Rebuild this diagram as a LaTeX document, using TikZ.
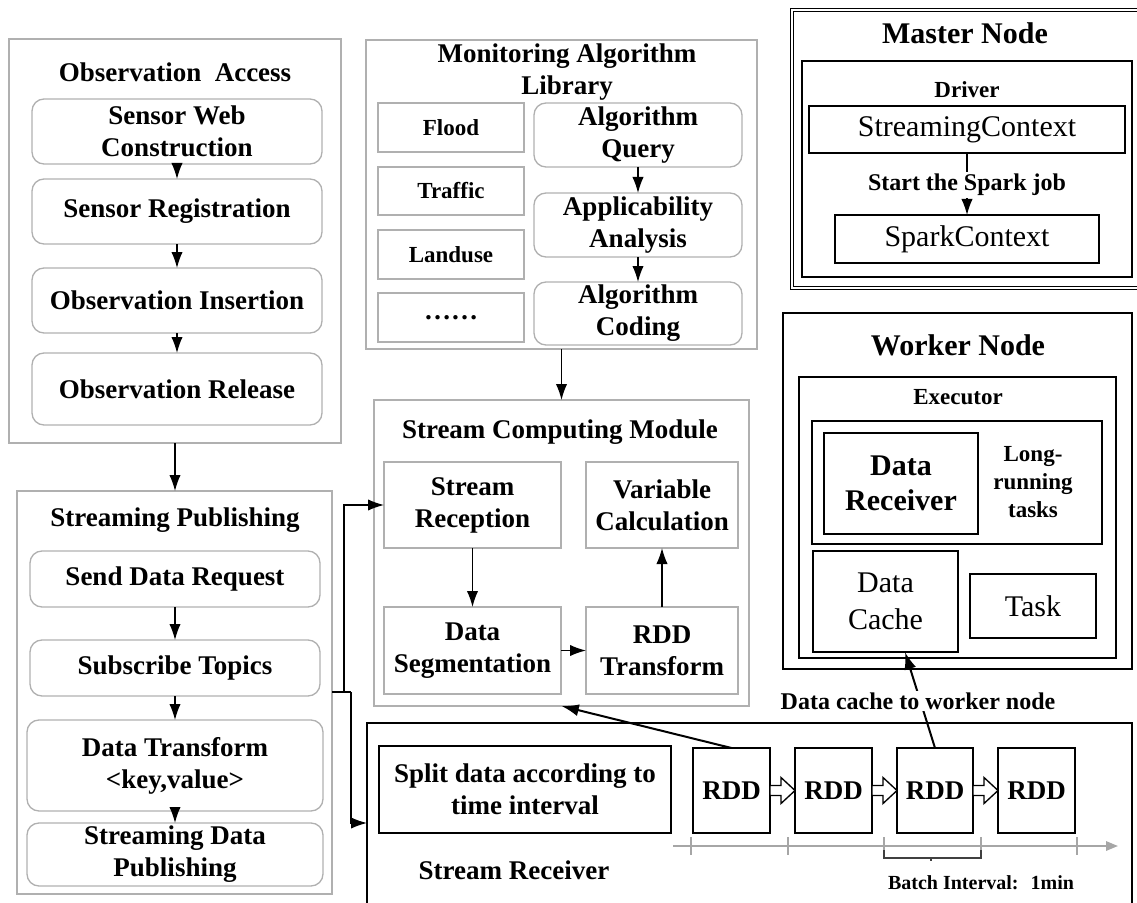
\documentclass[tikz,border=0pt]{standalone}
\usepackage{fontspec}
\setmainfont{Liberation Serif}
\usetikzlibrary{arrows.meta}
\definecolor{boxgray}{HTML}{B0B0B0}
\definecolor{tlgray}{HTML}{A6A6A6}
\newcommand\fA{\fontsize{20.25}{24}\selectfont\bfseries}
\newcommand\fB{\fontsize{22.5}{26}\selectfont\bfseries}
\newcommand\fC{\fontsize{17.25}{21}\selectfont\bfseries}
\newcommand\fR{\fontsize{22.5}{27.5}\selectfont}
\newcommand\fS{\fontsize{18}{21}\selectfont\bfseries}
\newcommand\fT{\fontsize{15}{18}\selectfont\bfseries}
\newcommand\placebox[7][]{\node[#1, minimum width={(#5-#3)*0.75pt}, minimum height={(#6-#4)*0.75pt}] (#2) at ({(#3+#5)/2},{(#4+#6)/2}) {#7};}
\tikzset{
  base/.style={inner sep=0pt, outer sep=0pt, align=center, font=\fA},
  gbox/.style={base, draw=boxgray, line width=1pt},
  rbox/.style={gbox, rounded corners=9pt},
  kbox/.style={base, draw=black, line width=1.6pt},
  dbox/.style={base, draw=black, line width=1pt, double, double distance=1.2pt},
  ttl/.style={inner sep=0pt, align=center, font=\fA},
  arr/.style={-{Latex[length=12pt,width=8.5pt]}, line width=1pt},
  arrk/.style={-{Latex[length=13pt,width=9pt]}, line width=1.5pt},
  ln/.style={line width=1pt},
  hol/.style={draw=black, fill=white, line width=1pt, line join=miter},
  tl/.style={draw=tlgray, line width=1.6pt},
  lbl/.style={fill=white, inner sep=1.5pt, align=center}
}
\begin{document}
\begin{tikzpicture}[x=0.75pt,y=-0.75pt]
\useasboundingbox (0,0) rectangle (1137,902);

% ---------- Observation Access ----------
\placebox[gbox]{OA}{9}{39}{341}{443}{}
\node[ttl] (OAt) at (175,72) {Observation\ \ Access};
\placebox[rbox]{OA1}{32}{99}{322}{164}{Sensor Web\\Construction}
\placebox[rbox]{OA2}{32}{179}{322}{244}{Sensor Registration}
\placebox[rbox]{OA3}{32}{268}{322}{333}{Observation Insertion}
\placebox[rbox]{OA4}{32}{353}{322}{425}{Observation Release}
\draw[arr] (OA1) -- (OA2);
\draw[arr] (OA2) -- (OA3);
\draw[arr] (OA3) -- (OA4);

% ---------- Streaming Publishing ----------
\placebox[gbox]{SP}{17}{491}{332}{894}{}
\node[ttl] (SPt) at (175,520) {Streaming Publishing};
\placebox[rbox]{SP1}{30}{551}{320}{607}{Send Data Request}
\placebox[rbox]{SP2}{30}{640}{320}{696}{Subscribe Topics}
\placebox[rbox]{SP3}{27}{720}{323}{811}{Data Transform\\<key,value>}
\placebox[rbox]{SP4}{27}{823}{323}{886}{Streaming Data\\Publishing}
\draw[arr] (SP1) -- (SP2);
\draw[arr] (SP2) -- (SP3);
\draw[arr] (SP3) -- (SP4);
\draw[arr] (OA.south) -- (OA.south |- SP.north);

% ---------- Monitoring Algorithm Library ----------
\placebox[gbox]{MAL}{366}{40}{757}{349}{}
\node[ttl] (MALt) at (567,72) {Monitoring Algorithm\\Library};
\placebox[gbox,font=\fC]{F1}{378}{103}{524}{152}{Flood}
\placebox[gbox,font=\fC]{F2}{378}{167}{524}{215}{Traffic}
\placebox[gbox,font=\fC]{F3}{378}{230}{524}{279}{Landuse}
\placebox[gbox]{F4}{378}{293}{524}{342}{……}
\placebox[rbox]{AQ}{534}{103}{742}{167}{Algorithm\\Query}
\placebox[rbox]{AA}{534}{193}{742}{257}{Applicability\\Analysis}
\placebox[rbox]{AC}{534}{282}{742}{345}{Algorithm\\Coding}
\draw[arr] (AQ) -- (AA);
\draw[arr] (AA) -- (AC);

% ---------- Stream Computing Module ----------
\placebox[gbox]{SCM}{374}{400}{749}{706}{}
\node[ttl] (SCMt) at (560,432) {Stream Computing Module};
\placebox[gbox]{SR}{384}{462}{561}{548}{Stream\\Reception}
\placebox[gbox]{VC}{586}{462}{738}{548}{Variable\\Calculation}
\placebox[gbox]{DS}{384}{607}{561}{694}{Data\\Segmentation}
\placebox[gbox]{RT}{586}{607}{738}{694}{RDD\\Transform}
\draw[arr] (SR) -- (DS);
\draw[arr] (DS) -- (RT);
\draw[arr] (RT) -- (VC);
\draw[arr] (MAL.south) -- (SCM.north);

% ---------- Master Node ----------
\placebox[dbox]{MN}{792}{10}{1145}{288}{}
\node[ttl,font=\fB] (MNt) at (965,33) {Master Node};
\placebox[kbox]{DRV}{802}{61}{1132}{277}{}
\node[ttl,font=\fC] (DRVt) at (967,90) {Driver};
\placebox[kbox,font=\fR]{SC}{809}{106}{1125}{153}{StreamingContext}
\placebox[kbox,font=\fR]{SPC}{835}{215}{1099}{263}{SparkContext}
\draw[arr] (SC.south) -- (SPC.north);
\node[lbl,font=\fS] (SJ) at (967,185) {Start the Spark job};

% ---------- Worker Node ----------
\placebox[kbox,line width=1.9pt]{WN}{783}{313}{1132}{669}{}
\node[ttl,font=\fB] (WNt) at (958,345) {Worker Node};
\placebox[kbox]{EX}{799}{377}{1116}{658}{}
\node[ttl,font=\fC] (EXt) at (958,397) {Executor};
\placebox[kbox]{LR}{812}{421}{1102}{544}{}
\placebox[kbox,font=\fB]{DR}{824}{433}{978}{534}{Data\\Receiver}
\node[ttl,font=\fC] (LRt) at (1033,482) {Long-\\running\\tasks};
\placebox[kbox,font=\fR]{DC}{813}{551}{958}{652}{Data\\Cache}
\placebox[kbox,font=\fR]{TK}{970}{574}{1096}{638}{Task}

% ---------- Stream Receiver ----------
\placebox[kbox]{RCV}{367}{723}{1132}{920}{}
\placebox[kbox]{SPL}{379}{746}{671}{833}{Split data according to\\time interval}
\placebox[kbox]{R1}{693}{748}{770}{833}{RDD}
\placebox[kbox]{R2}{795}{748}{872}{833}{RDD}
\placebox[kbox]{R3}{897}{748}{973}{833}{RDD}
\placebox[kbox]{R4}{998}{748}{1075}{833}{RDD}
\node[ttl] (RCVt) at (514,870) {Stream Receiver};
\draw[hol] (R1.east) ++(0,-5) -- ++(11,0) -- ++(0,-8) -- (R2.west) -- ++(-14,13) -- ++(0,-8) -- ++(-11,0) -- cycle;
\draw[hol] (R2.east) ++(0,-5) -- ++(11,0) -- ++(0,-8) -- (R3.west) -- ++(-14,13) -- ++(0,-8) -- ++(-11,0) -- cycle;
\draw[hol] (R3.east) ++(0,-5) -- ++(11,0) -- ++(0,-8) -- (R4.west) -- ++(-14,13) -- ++(0,-8) -- ++(-11,0) -- cycle;

% time line
\draw[tl,-{Triangle[length=9pt,width=7pt]}] (673,846) -- (1118,846);
\foreach \tx in {691,788,884,981,1077}{\draw[tl] (\tx,837) -- (\tx,855);}
\draw[line width=0.8pt, black!75] (884,850) -- (884,858) -- (981,858) -- (981,850);
\draw[line width=0.8pt, black!75] (931,858) -- (931,861);
\node[ttl,font=\fT] (BI) at (981,883) {Batch Interval:\hspace{9pt}1min};

% ---------- connectors ----------
\coordinate (ja) at (344,692);
\coordinate (jb) at (351,692);
\coordinate (rin) at (367,823);
\draw[ln] (SP.east |- ja) -- (jb);
\draw[arr] (ja) |- (SR.west);
\draw[arr] (jb) |- (rin);
\draw[arrk] (R1.north) -- (SCM.south);
\coordinate (dct) at (905,652);
\draw[arrk] (R3.north) -- (dct);
\node[lbl,font=\fS] (DCW) at (918,701) {Data cache to worker node};
\end{tikzpicture}
\end{document}
